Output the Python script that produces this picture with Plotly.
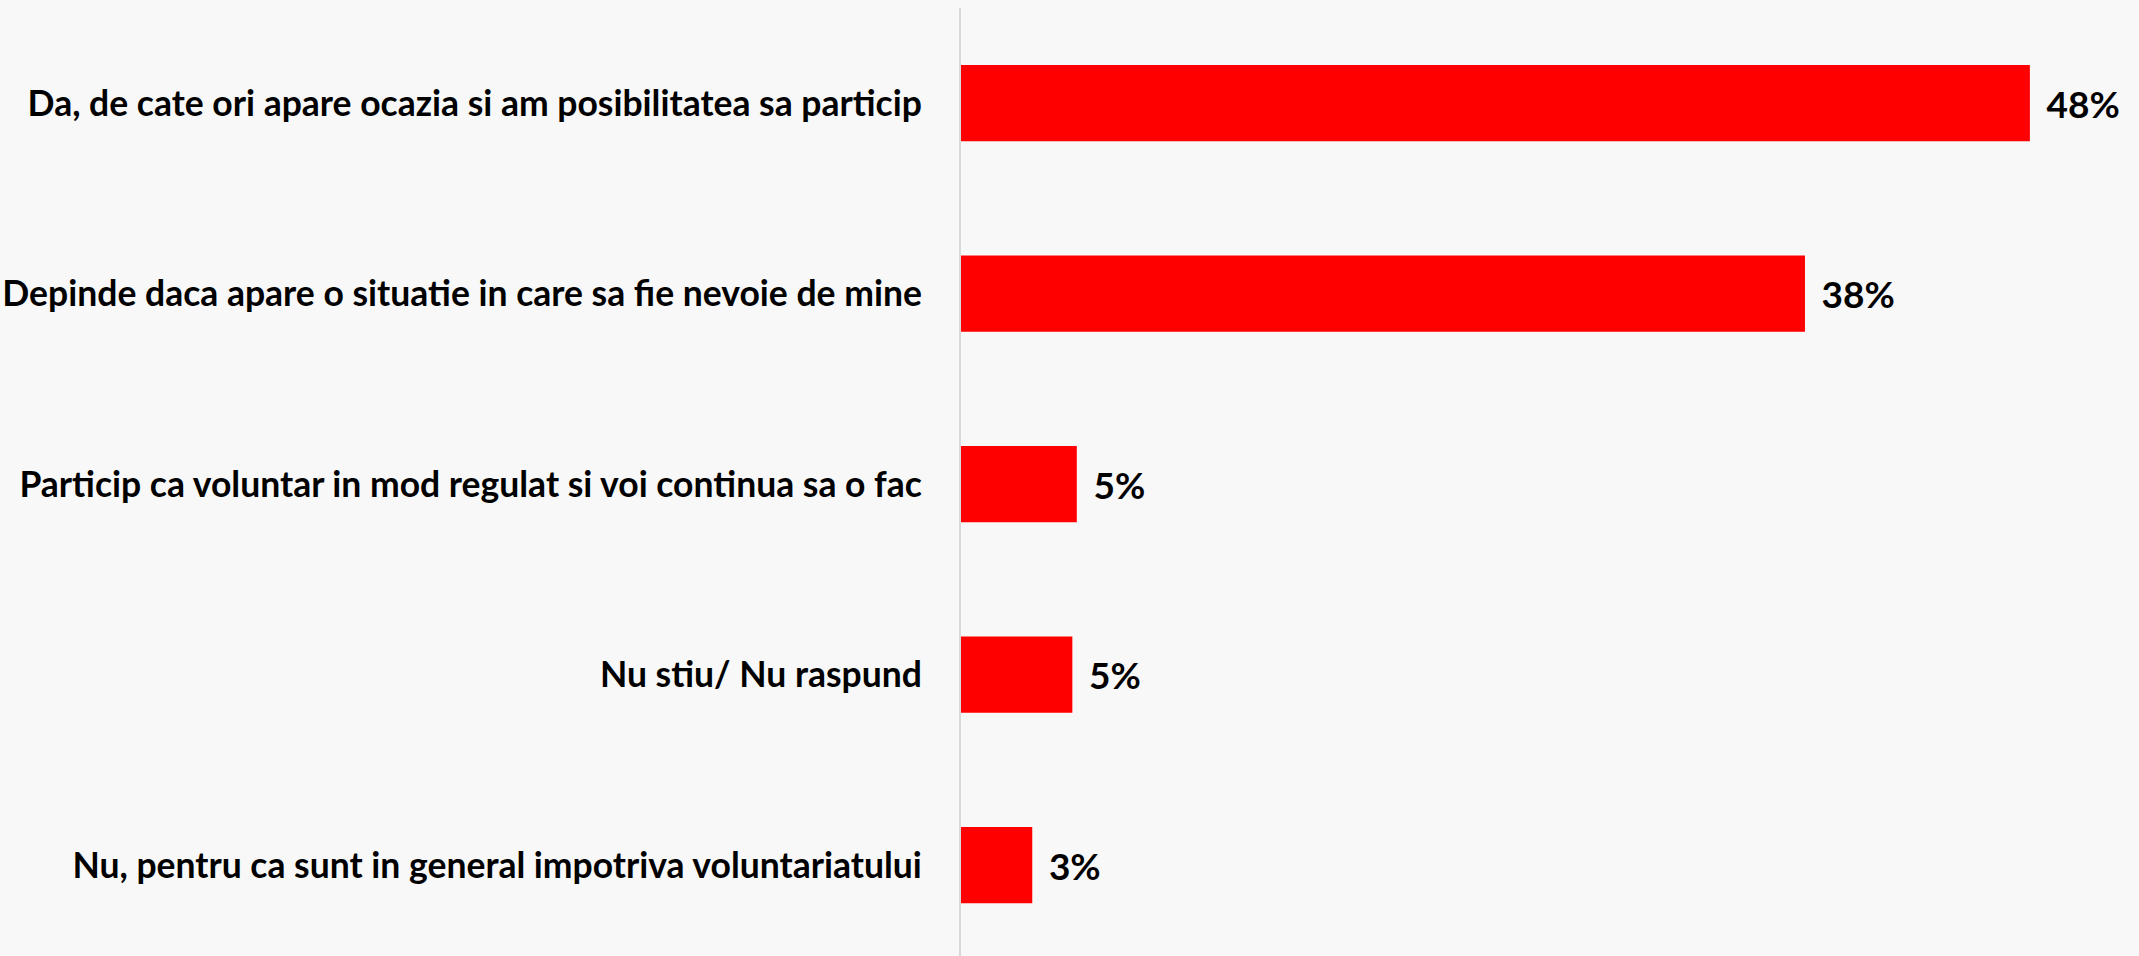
import plotly.graph_objects as go

categories = [
    "Da, de cate ori apare ocazia si am posibilitatea sa particip",
    "Depinde daca apare o situatie in care sa fie nevoie de mine",
    "Particip ca voluntar in mod regulat si voi continua sa o fac",
    "Nu stiu/ Nu raspund",
    "Nu, pentru ca sunt in general impotriva voluntariatului",
]
values = [48.0, 37.9, 5.2, 5.0, 3.2]
labels = ["48%", "38%", "5%", "5%", "3%"]

fig = go.Figure(
    go.Bar(
        x=values,
        y=categories,
        orientation="h",
        marker=dict(color="#ff0000", line=dict(width=0)),
        text=[" \u2009" + t for t in labels],
        textposition="outside",
        cliponaxis=False,
        textfont=dict(family="Lato", size=37, color="#000000", weight="bold"),
        hoverinfo="skip",
    )
)

fig.update_layout(
    width=2139,
    height=956,
    margin=dict(l=961, r=0, t=8, b=0),
    paper_bgcolor="#f8f8f8",
    plot_bgcolor="#f8f8f8",
    bargap=0.6,
    showlegend=False,
    font=dict(family="Lato", color="#000000"),
    xaxis=dict(
        range=[0, 52.9],
        showgrid=False,
        zeroline=False,
        showticklabels=False,
        showline=False,
        ticks="",
    ),
    yaxis=dict(
        type="category",
        range=[4.477, -0.499],
        showgrid=False,
        zeroline=False,
        showline=True,
        linecolor="#d9d9d9",
        linewidth=2,
        ticks="",
        ticklabelstandoff=30,
        tickfont=dict(family="Lato", size=35.5, color="#000000", weight="bold"),
    ),
)

fig.write_html(
    "out.html",
    config={"displayModeBar": False},
    post_script="document.body.style.margin='0';document.body.style.overflow='hidden';",
)
